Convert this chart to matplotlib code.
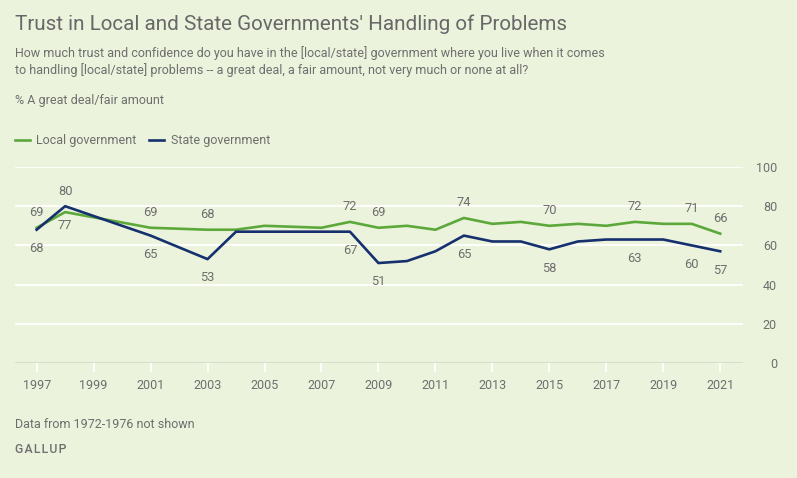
import numpy as np
import matplotlib.pyplot as plt

plt.rcParams['font.family'] = ['Roboto', 'DejaVu Sans']

# Survey years and % saying a great deal / fair amount
years = [1997, 1998, 2001, 2003, 2004, 2005, 2007, 2008, 2009, 2010, 2011,
         2012, 2013, 2014, 2015, 2016, 2017, 2018, 2019, 2020, 2021]
local_gov = [69, 77, 69, 68, 68, 70, 69, 72, 69, 70, 68,
             74, 71, 72, 70, 71, 70, 72, 71, 71, 66]
state_gov = [68, 80, 65, 53, 67, 67, 67, 67, 51, 52, 57,
             65, 62, 62, 58, 62, 63, 63, 63, 60, 57]

# years that carry a value label
label_years = [1997, 1998, 2001, 2003, 2008, 2009, 2012, 2015, 2018, 2020, 2021]

x_ticks = list(range(1997, 2022, 2))
y_ticks = [0, 20, 40, 60, 80, 100]

bg = '#ebf3dc'
green = '#5da83a'
navy = '#16306e'
txt = '#6e6e6e'

W, H = 797, 478
fig = plt.figure(figsize=(W / 100, H / 100), dpi=100, facecolor=bg)
ax = fig.add_axes([15 / W, 1 - 363 / H, (743 - 15) / W, (363 - 167) / H])
ax.set_facecolor(bg)

ax.set_xlim(1996.24, 2021.8)
ax.set_ylim(0, 100)

for v in y_ticks:
    if v == 0:
        ax.axhline(v, color='#d6dacd', lw=2, zorder=1)
    else:
        ax.axhline(v, color='white', lw=1.3, zorder=1)

ax.plot(years, local_gov, color=green, lw=1.9, zorder=3, clip_on=False,
        label='Local government')
ax.plot(years, state_gov, color=navy, lw=1.9, zorder=3, clip_on=False,
        label='State government')

# value labels
for yr in label_years:
    i = years.index(yr)
    lv, sv = local_gov[i], state_gov[i]
    if yr == 1998:
        off_l, off_s = -10, 10.5
    else:
        off_l, off_s = 11, -13.5
    ax.annotate(str(lv), (yr, lv), xytext=(0, off_l), textcoords='offset points',
                ha='center', va='center', fontsize=9.3, color=txt, zorder=4)
    ax.annotate(str(sv), (yr, sv), xytext=(0, off_s), textcoords='offset points',
                ha='center', va='center', fontsize=9.3, color=txt, zorder=4)

for s in ax.spines.values():
    s.set_visible(False)

ax.set_xticks(x_ticks)
ax.set_xticklabels([str(t) for t in x_ticks])
ax.tick_params(axis='x', direction='out', length=6.5, width=1.3, color='white',
               pad=5, labelsize=9, labelcolor=txt)

ax.yaxis.tick_right()
ax.set_yticks(y_ticks)
ax.set_yticklabels([str(t) for t in y_ticks], ha='right')
ax.tick_params(axis='y', length=0, pad=24.5, labelsize=9, labelcolor=txt)

# header text
fig.text(15 / W, 1 - 29.5 / H, "Trust in Local and State Governments' Handling of Problems",
         fontsize=14.9, color='#686868', va='baseline')
fig.text(15 / W, 1 - 56.7 / H,
         "How much trust and confidence do you have in the [local/state] government where you live when it comes",
         fontsize=9, color=txt, va='baseline')
fig.text(15 / W, 1 - 74 / H,
         "to handling [local/state] problems -- a great deal, a fair amount, not very much or none at all?",
         fontsize=9, color=txt, va='baseline')
fig.text(15 / W, 1 - 104.3 / H, "% A great deal/fair amount",
         fontsize=9, color=txt, va='baseline')

# legend drawn by hand to sit in the header
ly = 1 - 140 / H
fig.add_artist(plt.Line2D([15 / W, 30 / W], [ly, ly], color=green, lw=1.9))
fig.text(36 / W, 1 - 144.3 / H, 'Local government', fontsize=9, color=txt, va='baseline')
fig.add_artist(plt.Line2D([149 / W, 164 / W], [ly, ly], color=navy, lw=1.9))
fig.text(171 / W, 1 - 144.3 / H, 'State government', fontsize=9, color=txt, va='baseline')

# footer
fig.text(15 / W, 1 - 428.3 / H, 'Data from 1972-1976 not shown',
         fontsize=9, color=txt, va='baseline')
fig.text(15 / W, 1 - 452.7 / H, '\u200a'.join('GALLUP'), fontsize=8.8, color=txt,
         va='baseline', fontweight='medium')

fig.savefig('out.png', dpi=100, facecolor=bg)
